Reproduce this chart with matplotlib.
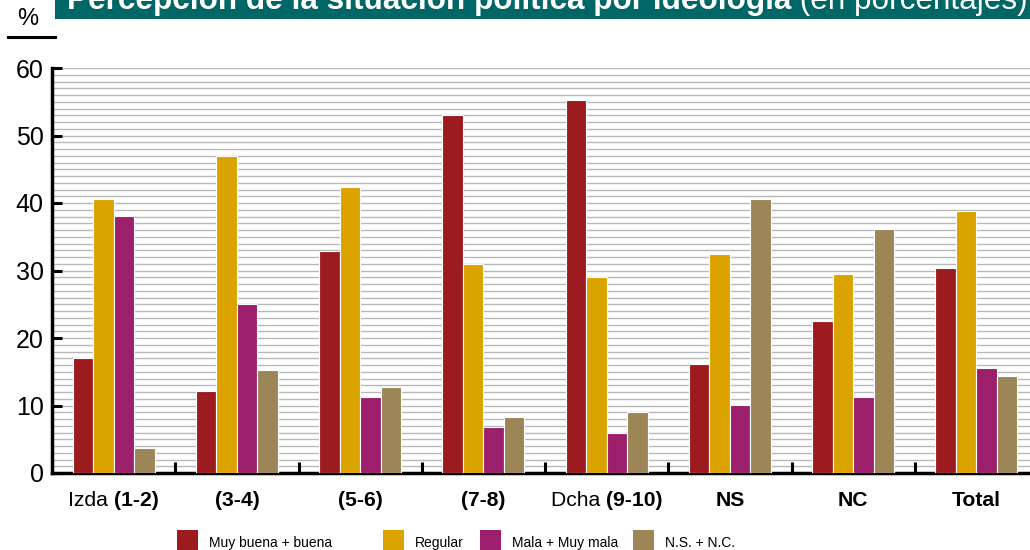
import matplotlib
matplotlib.use("Agg")
import matplotlib.pyplot as plt
import numpy as np
from matplotlib.transforms import IdentityTransform
from matplotlib.patches import Rectangle

plt.rcParams['font.family'] = ['Liberation Sans', 'DejaVu Sans']

# ---- data ----
categories = ["Izda (1-2)", "(3-4)", "(5-6)", "(7-8)", "Dcha (9-10)", "NS", "NC", "Total"]
series_names = ["Muy buena + buena", "Regular", "Mala + Muy mala", "N.S. + N.C."]
muy_buena = [17.0, 12.1, 32.9, 53.0, 55.3, 16.1, 22.5, 30.4]
regular = [40.6, 47.0, 42.4, 31.0, 29.0, 32.4, 29.5, 38.8]
mala = [38.1, 25.0, 11.3, 6.8, 5.9, 10.1, 11.3, 15.6]
ns_nc = [3.7, 15.3, 12.7, 8.3, 9.0, 40.6, 36.1, 14.4]
series_values = [muy_buena, regular, mala, ns_nc]
colors = ["#9B1B1F", "#DBA300", "#9B1F6A", "#9C8657"]
yticks = [0, 10, 20, 30, 40, 50, 60]
title_bold = "Percepción de la situación política por ideología"
title_normal = " (en porcentajes)"

W, H = 1030, 550
fig = plt.figure(figsize=(W / 100, H / 100), dpi=100)
ax = fig.add_axes([52 / W, 1 - 473 / H, 986 / W, (473 - 68) / H])

n = len(categories)
x = np.arange(n)
bw = 0.166
offsets = [-1.5, -0.5, 0.5, 1.5]
for vals, col, off in zip(series_values, colors, offsets):
    ax.bar(x + off * bw, vals, width=bw, color=col, edgecolor="white",
           linewidth=0.8, zorder=3)

ax.set_xlim(-0.5, n - 0.5)
ax.set_ylim(0, 60)
# fine horizontal grid every unit, under everything
ax.hlines(np.arange(1, 61, 1), -0.5, n - 0.5, colors="#b8b8b8", linewidth=1.0,
          zorder=0.5)
ax.set_axisbelow(False)
ax.set_yticks(yticks)
ax.set_yticklabels([str(t) for t in yticks], fontsize=18)
ax.tick_params(axis="y", which="major", direction="in", length=7, width=2.2,
               pad=6, colors="black")
ax.set_xticks(np.arange(0.5, n - 0.5, 1))
ax.set_xticklabels([])
ax.tick_params(axis="x", direction="in", length=8, width=2.2)
for s in ["top", "right"]:
    ax.spines[s].set_visible(False)
ax.spines["left"].set_linewidth(2.5)
ax.spines["bottom"].set_linewidth(2.5)

renderer = fig.canvas.get_renderer()


def mixed(parts, cx, cy, size, color="black", ha="center", va="center"):
    objs = []
    for txt, wt in parts:
        t = fig.text(0, cy, txt, fontsize=size, fontweight=wt, color=color,
                     transform=IdentityTransform(), ha="left", va=va)
        objs.append(t)
    widths = [o.get_window_extent(renderer).width for o in objs]
    total = sum(widths)
    start = cx - total / 2 if ha == "center" else cx
    for o, w in zip(objs, widths):
        o.set_x(start)
        start += w
    return total


# category labels
for i, lab in enumerate(categories):
    if " " in lab:
        a, b = lab.split(" ", 1)
        parts = [(a + " ", "normal"), (b, "bold")]
    else:
        parts = [(lab, "bold")]
    px = ax.transData.transform((i, 0))[0]
    mixed(parts, px, H - 500, 15.2)

# title banner
fig.patches.append(Rectangle((55, H - 18.5), W - 55, 20, transform=IdentityTransform(),
                             facecolor="#006666", edgecolor="none", zorder=0))
tb = fig.text(67, H - 9.5, title_bold, fontsize=20, fontweight="bold", color="white",
              transform=IdentityTransform(), ha="left", va="baseline", zorder=2)
wb = tb.get_window_extent(renderer).width
fs = 20 * 723 / wb
tb.set_fontsize(fs)
wb = tb.get_window_extent(renderer).width
fig.text(67 + wb, H - 9.5, title_normal, fontsize=fs, fontweight="normal", color="white",
         transform=IdentityTransform(), ha="left", va="baseline", zorder=2)

# % label
fig.text(28, H - 19, "%", fontsize=17, ha="center", va="center",
         transform=IdentityTransform())
fig.add_artist(plt.Line2D([8, 55], [H - 37, H - 37], color="black", linewidth=2.2,
                          transform=IdentityTransform()))

# legend
leg_x = [177, 383, 480, 633]
for name, col, lx in zip(series_names, colors, leg_x):
    fig.patches.append(Rectangle((lx, H - 551), 21, 21, transform=IdentityTransform(),
                                 facecolor=col, edgecolor="none"))
    fig.text(lx + 32, H - 543, name, fontsize=10, ha="left", va="center",
             transform=IdentityTransform())

fig.savefig("out.png", dpi=100)
